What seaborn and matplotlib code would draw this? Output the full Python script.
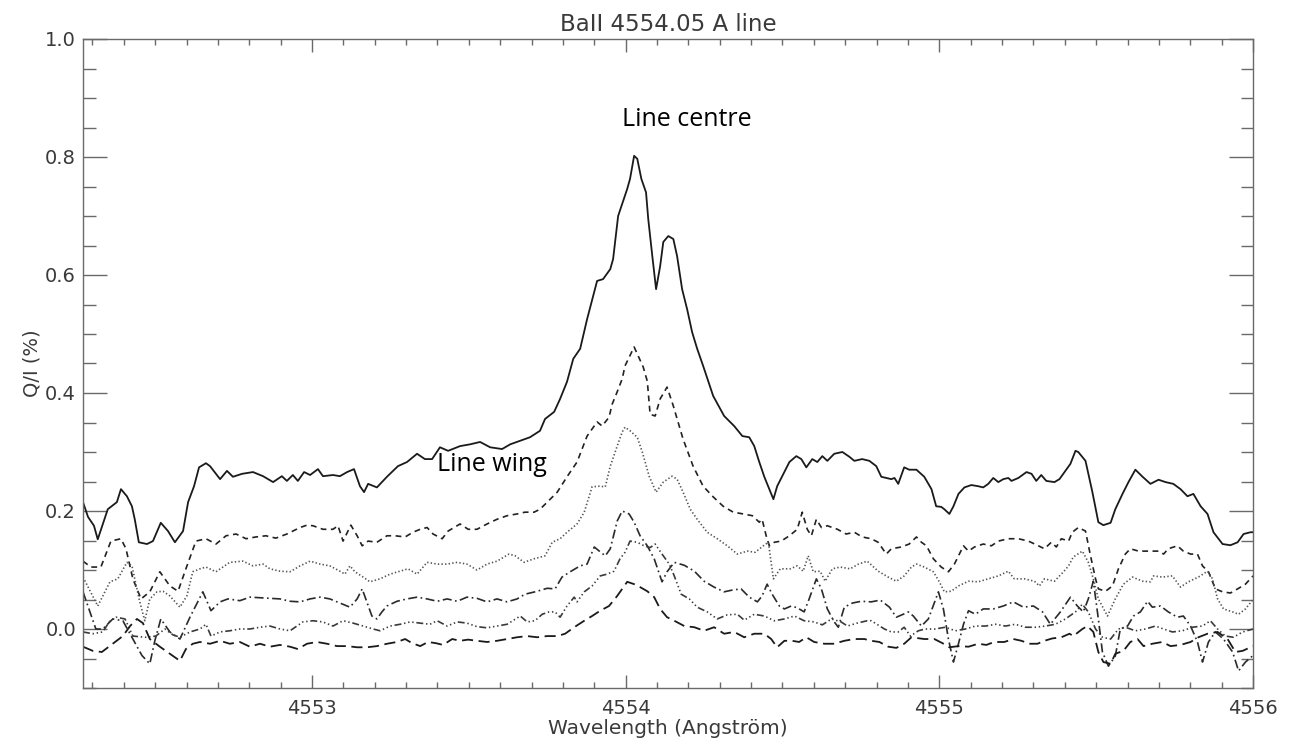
import matplotlib
matplotlib.use("Agg")
import matplotlib.pyplot as plt
from matplotlib.ticker import MultipleLocator, FixedLocator, FormatStrFormatter
import seaborn as sns
import pandas as pd

# ---------------- data ----------------
wl_centre = [4552.270, 4552.286, 4552.305, 4552.317, 4552.349, 4552.378, 4552.391, 4552.410, 4552.426, 4552.435,
             4552.448, 4552.474, 4552.493, 4552.518, 4552.541, 4552.563, 4552.589, 4552.605, 4552.624, 4552.640,
             4552.662, 4552.675, 4552.707, 4552.729, 4552.748, 4552.777, 4552.812, 4552.844, 4552.876, 4552.904,
             4552.920, 4552.939, 4552.955, 4552.975, 4552.994, 4553.019, 4553.035, 4553.067, 4553.089, 4553.112,
             4553.134, 4553.153, 4553.166, 4553.179, 4553.207, 4553.239, 4553.274, 4553.303, 4553.335, 4553.360,
             4553.383, 4553.408, 4553.434, 4553.472, 4553.504, 4553.536, 4553.568, 4553.606, 4553.632, 4553.664,
             4553.695, 4553.727, 4553.743, 4553.772, 4553.791, 4553.813, 4553.833, 4553.855, 4553.877, 4553.909,
             4553.928, 4553.951, 4553.960, 4553.976, 4554.005, 4554.014, 4554.027, 4554.037, 4554.050, 4554.065,
             4554.072, 4554.085, 4554.097, 4554.110, 4554.120, 4554.136, 4554.152, 4554.164, 4554.180, 4554.196,
             4554.212, 4554.228, 4554.247, 4554.279, 4554.314, 4554.346, 4554.372, 4554.394, 4554.410, 4554.426,
             4554.442, 4554.458, 4554.471, 4554.483, 4554.506, 4554.522, 4554.544, 4554.560, 4554.576, 4554.595,
             4554.611, 4554.627, 4554.643, 4554.665, 4554.691, 4554.713, 4554.729, 4554.754, 4554.777, 4554.799,
             4554.815, 4554.847, 4554.857, 4554.869, 4554.888, 4554.904, 4554.927, 4554.952, 4554.975, 4554.990,
             4555.006, 4555.016, 4555.032, 4555.045, 4555.061, 4555.080, 4555.102, 4555.124, 4555.140, 4555.156,
             4555.172, 4555.188, 4555.204, 4555.220, 4555.230, 4555.252, 4555.278, 4555.294, 4555.309, 4555.325,
             4555.341, 4555.367, 4555.383, 4555.399, 4555.418, 4555.434, 4555.443, 4555.466, 4555.488, 4555.507,
             4555.523, 4555.546, 4555.561, 4555.584, 4555.603, 4555.625, 4555.648, 4555.673, 4555.699, 4555.721,
             4555.746, 4555.769, 4555.791, 4555.810, 4555.833, 4555.855, 4555.874, 4555.903, 4555.928, 4555.951,
             4555.970, 4555.992, 4556.000]
q_centre = [0.215, 0.190, 0.175, 0.152, 0.203, 0.215, 0.237, 0.225, 0.208, 0.186,
            0.147, 0.144, 0.149, 0.180, 0.166, 0.147, 0.166, 0.215, 0.242, 0.274,
            0.281, 0.276, 0.254, 0.268, 0.258, 0.263, 0.266, 0.259, 0.249, 0.259,
            0.251, 0.261, 0.251, 0.266, 0.261, 0.271, 0.259, 0.261, 0.259, 0.266,
            0.271, 0.242, 0.232, 0.246, 0.240, 0.258, 0.276, 0.283, 0.297, 0.288,
            0.288, 0.308, 0.302, 0.310, 0.313, 0.317, 0.308, 0.305, 0.313, 0.319,
            0.325, 0.336, 0.356, 0.368, 0.390, 0.419, 0.458, 0.475, 0.525, 0.590,
            0.593, 0.610, 0.627, 0.700, 0.746, 0.763, 0.802, 0.797, 0.763, 0.740,
            0.695, 0.632, 0.576, 0.615, 0.656, 0.666, 0.661, 0.632, 0.576, 0.542,
            0.503, 0.475, 0.446, 0.395, 0.361, 0.344, 0.327, 0.325, 0.310, 0.283,
            0.258, 0.237, 0.220, 0.242, 0.266, 0.283, 0.293, 0.288, 0.274, 0.288,
            0.283, 0.293, 0.285, 0.297, 0.300, 0.292, 0.285, 0.288, 0.285, 0.276,
            0.258, 0.254, 0.256, 0.246, 0.274, 0.270, 0.270, 0.258, 0.237, 0.208,
            0.207, 0.203, 0.195, 0.208, 0.229, 0.240, 0.244, 0.242, 0.240, 0.246,
            0.256, 0.249, 0.254, 0.256, 0.251, 0.256, 0.266, 0.263, 0.251, 0.261,
            0.251, 0.249, 0.254, 0.266, 0.280, 0.302, 0.300, 0.285, 0.232, 0.181,
            0.176, 0.180, 0.203, 0.229, 0.249, 0.270, 0.258, 0.246, 0.253, 0.249,
            0.246, 0.237, 0.225, 0.229, 0.208, 0.195, 0.164, 0.144, 0.142, 0.147,
            0.161, 0.164, 0.164]

wl_pos2 = [4552.270, 4552.295, 4552.327, 4552.359, 4552.391, 4552.407, 4552.429, 4552.455, 4552.483, 4552.515,
           4552.547, 4552.573, 4552.598, 4552.630, 4552.662, 4552.694, 4552.726, 4552.758, 4552.790, 4552.821,
           4552.853, 4552.885, 4552.920, 4552.939, 4552.962, 4552.984, 4553.003, 4553.035, 4553.067, 4553.083,
           4553.099, 4553.124, 4553.144, 4553.160, 4553.179, 4553.207, 4553.239, 4553.265, 4553.297, 4553.322,
           4553.345, 4553.367, 4553.386, 4553.415, 4553.434, 4553.472, 4553.498, 4553.526, 4553.558, 4553.590,
           4553.622, 4553.654, 4553.679, 4553.708, 4553.727, 4553.750, 4553.782, 4553.813, 4553.845, 4553.877,
           4553.909, 4553.925, 4553.947, 4553.957, 4553.973, 4553.989, 4553.998, 4554.027, 4554.056, 4554.069,
           4554.078, 4554.094, 4554.110, 4554.132, 4554.152, 4554.183, 4554.215, 4554.247, 4554.279, 4554.311,
           4554.343, 4554.375, 4554.404, 4554.426, 4554.435, 4554.448, 4554.458, 4554.474, 4554.496, 4554.522,
           4554.547, 4554.563, 4554.579, 4554.592, 4554.608, 4554.624, 4554.643, 4554.675, 4554.703, 4554.729,
           4554.754, 4554.783, 4554.805, 4554.831, 4554.847, 4554.879, 4554.904, 4554.927, 4554.943, 4554.959,
           4554.981, 4555.006, 4555.029, 4555.048, 4555.077, 4555.093, 4555.112, 4555.140, 4555.166, 4555.188,
           4555.220, 4555.252, 4555.284, 4555.316, 4555.335, 4555.357, 4555.373, 4555.389, 4555.412, 4555.424,
           4555.443, 4555.466, 4555.482, 4555.498, 4555.507, 4555.530, 4555.552, 4555.571, 4555.593, 4555.609,
           4555.635, 4555.667, 4555.699, 4555.715, 4555.730, 4555.759, 4555.778, 4555.801, 4555.823, 4555.839,
           4555.858, 4555.880, 4555.903, 4555.928, 4555.951, 4555.976, 4556.000]
q_pos2 = [0.115, 0.105, 0.105, 0.149, 0.153, 0.136, 0.085, 0.051, 0.063, 0.097,
          0.073, 0.064, 0.102, 0.149, 0.153, 0.144, 0.158, 0.161, 0.153, 0.156,
          0.158, 0.154, 0.161, 0.166, 0.172, 0.176, 0.175, 0.169, 0.169, 0.175,
          0.149, 0.176, 0.158, 0.141, 0.149, 0.147, 0.158, 0.158, 0.156, 0.164,
          0.169, 0.172, 0.161, 0.153, 0.166, 0.178, 0.169, 0.169, 0.178, 0.186,
          0.192, 0.195, 0.198, 0.198, 0.203, 0.215, 0.232, 0.258, 0.283, 0.327,
          0.351, 0.344, 0.359, 0.381, 0.402, 0.424, 0.446, 0.478, 0.444, 0.420,
          0.364, 0.361, 0.390, 0.410, 0.378, 0.322, 0.276, 0.242, 0.224, 0.208,
          0.198, 0.195, 0.192, 0.181, 0.186, 0.158, 0.141, 0.147, 0.149, 0.158,
          0.169, 0.198, 0.169, 0.158, 0.186, 0.172, 0.175, 0.169, 0.161, 0.164,
          0.156, 0.153, 0.147, 0.127, 0.136, 0.139, 0.144, 0.156, 0.147, 0.141,
          0.119, 0.105, 0.097, 0.110, 0.141, 0.132, 0.139, 0.144, 0.141, 0.149,
          0.153, 0.153, 0.149, 0.141, 0.136, 0.147, 0.139, 0.153, 0.149, 0.164,
          0.172, 0.166, 0.124, 0.085, 0.068, 0.064, 0.073, 0.102, 0.127, 0.136,
          0.132, 0.132, 0.132, 0.127, 0.136, 0.141, 0.132, 0.127, 0.127, 0.107,
          0.097, 0.068, 0.063, 0.061, 0.068, 0.076, 0.090]

wl_pos3 = [4552.270, 4552.317, 4552.356, 4552.381, 4552.410, 4552.426, 4552.451, 4552.467, 4552.483, 4552.506,
           4552.525, 4552.547, 4552.579, 4552.601, 4552.620, 4552.643, 4552.662, 4552.694, 4552.738, 4552.780,
           4552.812, 4552.844, 4552.866, 4552.898, 4552.930, 4552.962, 4552.994, 4553.026, 4553.057, 4553.089,
           4553.105, 4553.121, 4553.137, 4553.163, 4553.185, 4553.217, 4553.249, 4553.281, 4553.306, 4553.335,
           4553.367, 4553.399, 4553.431, 4553.463, 4553.494, 4553.526, 4553.558, 4553.590, 4553.628, 4553.648,
           4553.676, 4553.708, 4553.743, 4553.766, 4553.791, 4553.813, 4553.845, 4553.868, 4553.893, 4553.916,
           4553.935, 4553.951, 4553.973, 4553.989, 4553.998, 4554.014, 4554.037, 4554.053, 4554.075, 4554.097,
           4554.120, 4554.148, 4554.164, 4554.183, 4554.206, 4554.228, 4554.260, 4554.292, 4554.324, 4554.356,
           4554.388, 4554.413, 4554.439, 4554.455, 4554.471, 4554.493, 4554.525, 4554.547, 4554.566, 4554.582,
           4554.598, 4554.620, 4554.636, 4554.659, 4554.684, 4554.716, 4554.742, 4554.770, 4554.805, 4554.837,
           4554.863, 4554.888, 4554.911, 4554.927, 4554.952, 4554.981, 4555.000, 4555.016, 4555.038, 4555.061,
           4555.093, 4555.124, 4555.156, 4555.188, 4555.220, 4555.239, 4555.271, 4555.303, 4555.319, 4555.335,
           4555.367, 4555.396, 4555.412, 4555.427, 4555.456, 4555.475, 4555.491, 4555.507, 4555.536, 4555.561,
           4555.587, 4555.616, 4555.648, 4555.673, 4555.683, 4555.711, 4555.743, 4555.769, 4555.794, 4555.826,
           4555.855, 4555.871, 4555.887, 4555.906, 4555.935, 4555.954, 4555.976, 4556.000]
q_pos3 = [0.088, 0.039, 0.080, 0.085, 0.113, 0.107, 0.046, 0.014, 0.051, 0.063,
          0.064, 0.056, 0.037, 0.056, 0.097, 0.102, 0.105, 0.097, 0.113, 0.115,
          0.107, 0.110, 0.102, 0.098, 0.097, 0.107, 0.115, 0.110, 0.107, 0.098,
          0.093, 0.107, 0.097, 0.088, 0.080, 0.085, 0.093, 0.098, 0.102, 0.093,
          0.113, 0.110, 0.110, 0.113, 0.110, 0.100, 0.110, 0.115, 0.127, 0.124,
          0.113, 0.119, 0.124, 0.147, 0.153, 0.164, 0.178, 0.198, 0.241, 0.242,
          0.241, 0.276, 0.310, 0.334, 0.342, 0.336, 0.325, 0.300, 0.259, 0.232,
          0.249, 0.259, 0.254, 0.232, 0.203, 0.186, 0.164, 0.153, 0.141, 0.127,
          0.132, 0.130, 0.141, 0.147, 0.085, 0.102, 0.102, 0.107, 0.098, 0.124,
          0.097, 0.098, 0.081, 0.102, 0.105, 0.102, 0.110, 0.115, 0.098, 0.088,
          0.081, 0.090, 0.105, 0.110, 0.105, 0.097, 0.080, 0.063, 0.064, 0.073,
          0.081, 0.080, 0.085, 0.090, 0.098, 0.085, 0.085, 0.081, 0.073, 0.085,
          0.081, 0.097, 0.107, 0.122, 0.132, 0.113, 0.085, 0.051, 0.022, 0.051,
          0.076, 0.088, 0.081, 0.080, 0.090, 0.088, 0.090, 0.071, 0.080, 0.088,
          0.098, 0.085, 0.051, 0.034, 0.029, 0.025, 0.034, 0.050]

wl_pos4 = [4552.270, 4552.292, 4552.311, 4552.333, 4552.365, 4552.397, 4552.429, 4552.458, 4552.483, 4552.499,
           4552.518, 4552.547, 4552.579, 4552.611, 4552.652, 4552.678, 4552.707, 4552.732, 4552.770, 4552.802,
           4552.834, 4552.866, 4552.898, 4552.930, 4552.962, 4552.994, 4553.026, 4553.057, 4553.089, 4553.121,
           4553.144, 4553.160, 4553.175, 4553.191, 4553.207, 4553.223, 4553.239, 4553.271, 4553.303, 4553.335,
           4553.367, 4553.399, 4553.431, 4553.463, 4553.494, 4553.526, 4553.558, 4553.590, 4553.622, 4553.654,
           4553.679, 4553.711, 4553.750, 4553.775, 4553.797, 4553.823, 4553.855, 4553.877, 4553.900, 4553.916,
           4553.935, 4553.951, 4553.973, 4553.989, 4554.011, 4554.027, 4554.046, 4554.069, 4554.091, 4554.116,
           4554.132, 4554.155, 4554.187, 4554.219, 4554.250, 4554.282, 4554.314, 4554.340, 4554.368, 4554.394,
           4554.420, 4554.435, 4554.451, 4554.467, 4554.490, 4554.506, 4554.528, 4554.547, 4554.569, 4554.585,
           4554.608, 4554.624, 4554.643, 4554.665, 4554.678, 4554.697, 4554.723, 4554.751, 4554.783, 4554.812,
           4554.841, 4554.863, 4554.885, 4554.901, 4554.917, 4554.943, 4554.965, 4554.997, 4555.013, 4555.029,
           4555.045, 4555.061, 4555.077, 4555.093, 4555.115, 4555.140, 4555.172, 4555.204, 4555.236, 4555.268,
           4555.300, 4555.329, 4555.354, 4555.386, 4555.418, 4555.440, 4555.459, 4555.475, 4555.491, 4555.507,
           4555.520, 4555.539, 4555.561, 4555.577, 4555.600, 4555.619, 4555.641, 4555.664, 4555.679, 4555.705,
           4555.730, 4555.759, 4555.778, 4555.801, 4555.823, 4555.839, 4555.858, 4555.880, 4555.906, 4555.935,
           4555.954, 4555.976, 4556.000]
q_pos4 = [0.063, 0.029, 0.000, 0.000, 0.017, 0.014, -0.017, -0.045, -0.059, -0.020,
          0.017, -0.005, -0.017, 0.020, 0.063, 0.031, 0.046, 0.051, 0.048, 0.054,
          0.053, 0.052, 0.051, 0.047, 0.046, 0.051, 0.054, 0.051, 0.044, 0.037,
          0.051, 0.068, 0.046, 0.022, 0.017, 0.029, 0.039, 0.047, 0.051, 0.054,
          0.051, 0.047, 0.051, 0.047, 0.054, 0.052, 0.046, 0.051, 0.046, 0.051,
          0.059, 0.063, 0.069, 0.068, 0.088, 0.097, 0.107, 0.110, 0.139, 0.132,
          0.124, 0.136, 0.183, 0.200, 0.195, 0.181, 0.158, 0.141, 0.119, 0.080,
          0.097, 0.113, 0.108, 0.098, 0.081, 0.071, 0.063, 0.066, 0.068, 0.054,
          0.046, 0.056, 0.076, 0.059, 0.039, 0.034, 0.039, 0.036, 0.029, 0.051,
          0.085, 0.068, 0.034, 0.012, 0.003, 0.037, 0.044, 0.047, 0.046, 0.049,
          0.037, 0.020, 0.025, 0.029, 0.022, 0.005, 0.017, 0.063, 0.034, -0.017,
          -0.056, -0.025, 0.008, 0.031, 0.025, 0.034, 0.034, 0.039, 0.046, 0.037,
          0.039, 0.029, 0.008, 0.029, 0.054, 0.039, 0.029, 0.051, 0.081, 0.017,
          -0.039, -0.063, -0.046, 0.000, 0.005, 0.022, 0.029, 0.047, 0.037, 0.039,
          0.029, 0.020, 0.022, 0.005, -0.022, -0.056, -0.022, -0.005, -0.017, -0.039,
          -0.071, -0.056, -0.045]

wl_pos5 = [4552.270, 4552.301, 4552.333, 4552.356, 4552.375, 4552.404, 4552.429, 4552.471, 4552.502, 4552.531,
           4552.557, 4552.579, 4552.611, 4552.643, 4552.662, 4552.678, 4552.707, 4552.738, 4552.770, 4552.802,
           4552.834, 4552.866, 4552.898, 4552.930, 4552.952, 4552.971, 4553.003, 4553.035, 4553.067, 4553.099,
           4553.131, 4553.163, 4553.195, 4553.217, 4553.249, 4553.281, 4553.313, 4553.345, 4553.376, 4553.399,
           4553.431, 4553.463, 4553.494, 4553.526, 4553.558, 4553.590, 4553.622, 4553.664, 4553.686, 4553.711,
           4553.734, 4553.756, 4553.775, 4553.791, 4553.813, 4553.836, 4553.845, 4553.868, 4553.893, 4553.919,
           4553.941, 4553.963, 4553.982, 4553.998, 4554.014, 4554.037, 4554.059, 4554.078, 4554.094, 4554.116,
           4554.139, 4554.155, 4554.177, 4554.203, 4554.228, 4554.260, 4554.292, 4554.324, 4554.356, 4554.378,
           4554.410, 4554.442, 4554.474, 4554.506, 4554.538, 4554.569, 4554.601, 4554.627, 4554.656, 4554.687,
           4554.707, 4554.738, 4554.770, 4554.783, 4554.825, 4554.847, 4554.869, 4554.888, 4554.908, 4554.933,
           4554.955, 4554.987, 4555.019, 4555.051, 4555.083, 4555.115, 4555.147, 4555.179, 4555.211, 4555.242,
           4555.274, 4555.306, 4555.338, 4555.370, 4555.402, 4555.434, 4555.456, 4555.475, 4555.498, 4555.520,
           4555.546, 4555.571, 4555.593, 4555.625, 4555.657, 4555.689, 4555.715, 4555.743, 4555.775, 4555.807,
           4555.839, 4555.864, 4555.887, 4555.912, 4555.938, 4555.967, 4556.000]
q_pos5 = [-0.005, -0.008, -0.005, 0.014, 0.020, 0.017, -0.012, -0.014, -0.012, 0.000,
          -0.010, -0.014, -0.005, 0.000, 0.008, -0.012, -0.005, -0.003, 0.000, 0.000,
          0.003, 0.005, 0.000, -0.003, 0.005, 0.012, 0.014, 0.012, 0.005, 0.014,
          0.010, 0.005, 0.000, -0.003, 0.005, 0.008, 0.012, 0.010, 0.008, 0.014,
          0.005, 0.012, 0.010, 0.004, 0.002, 0.005, 0.008, 0.022, 0.012, 0.014,
          0.025, 0.029, 0.029, 0.020, 0.039, 0.054, 0.046, 0.063, 0.073, 0.090,
          0.093, 0.098, 0.119, 0.130, 0.149, 0.147, 0.141, 0.138, 0.144, 0.127,
          0.110, 0.090, 0.059, 0.051, 0.037, 0.029, 0.017, 0.024, 0.025, 0.015,
          0.025, 0.022, 0.014, 0.017, 0.022, 0.014, 0.012, 0.007, 0.017, 0.012,
          0.005, 0.010, 0.014, 0.014, 0.000, -0.005, -0.005, 0.003, -0.012, -0.003,
          0.000, 0.000, 0.003, -0.003, 0.000, 0.005, 0.005, 0.008, 0.005, 0.008,
          0.003, 0.003, 0.005, 0.008, 0.017, 0.029, 0.042, 0.029, 0.000, -0.014,
          -0.017, 0.000, 0.003, -0.003, 0.000, 0.005, 0.000, -0.005, -0.003, 0.003,
          0.005, 0.014, 0.000, -0.012, -0.014, -0.005, 0.000]

wl_pos6 = [4552.270, 4552.301, 4552.330, 4552.365, 4552.397, 4552.420, 4552.442, 4552.461, 4552.483, 4552.515,
           4552.547, 4552.579, 4552.598, 4552.620, 4552.643, 4552.675, 4552.707, 4552.738, 4552.770, 4552.802,
           4552.834, 4552.866, 4552.898, 4552.930, 4552.955, 4552.984, 4553.016, 4553.048, 4553.080, 4553.112,
           4553.144, 4553.175, 4553.207, 4553.239, 4553.271, 4553.297, 4553.319, 4553.345, 4553.370, 4553.395,
           4553.418, 4553.447, 4553.472, 4553.498, 4553.526, 4553.558, 4553.590, 4553.622, 4553.654, 4553.686,
           4553.718, 4553.750, 4553.782, 4553.807, 4553.836, 4553.868, 4553.893, 4553.919, 4553.947, 4553.973,
           4554.005, 4554.027, 4554.046, 4554.069, 4554.091, 4554.110, 4554.132, 4554.155, 4554.187, 4554.219,
           4554.250, 4554.282, 4554.314, 4554.346, 4554.378, 4554.410, 4554.442, 4554.464, 4554.483, 4554.506,
           4554.531, 4554.553, 4554.576, 4554.601, 4554.633, 4554.665, 4554.697, 4554.729, 4554.761, 4554.783,
           4554.809, 4554.837, 4554.863, 4554.888, 4554.911, 4554.952, 4554.984, 4555.010, 4555.032, 4555.061,
           4555.093, 4555.124, 4555.150, 4555.175, 4555.207, 4555.236, 4555.262, 4555.287, 4555.313, 4555.335,
           4555.360, 4555.389, 4555.415, 4555.427, 4555.456, 4555.472, 4555.491, 4555.507, 4555.523, 4555.546,
           4555.561, 4555.587, 4555.609, 4555.632, 4555.651, 4555.679, 4555.711, 4555.737, 4555.769, 4555.801,
           4555.826, 4555.855, 4555.887, 4555.919, 4555.944, 4555.967, 4556.000]
q_pos6 = [-0.030, -0.037, -0.039, -0.025, -0.012, 0.005, 0.017, 0.010, -0.017, -0.030,
          -0.042, -0.054, -0.034, -0.025, -0.022, -0.025, -0.020, -0.025, -0.022, -0.030,
          -0.025, -0.030, -0.027, -0.030, -0.034, -0.025, -0.022, -0.025, -0.029, -0.029,
          -0.031, -0.031, -0.029, -0.025, -0.022, -0.017, -0.024, -0.029, -0.022, -0.024,
          -0.027, -0.017, -0.020, -0.018, -0.020, -0.022, -0.020, -0.017, -0.014, -0.012,
          -0.014, -0.012, -0.012, -0.008, 0.003, 0.014, 0.022, 0.031, 0.039, 0.056,
          0.080, 0.076, 0.071, 0.064, 0.054, 0.034, 0.020, 0.014, 0.005, 0.003,
          -0.003, 0.003, -0.008, -0.005, -0.014, -0.008, -0.008, -0.017, -0.031, -0.020,
          -0.020, -0.022, -0.014, -0.022, -0.025, -0.025, -0.020, -0.017, -0.017, -0.020,
          -0.022, -0.030, -0.032, -0.025, -0.014, -0.017, -0.017, -0.024, -0.031, -0.029,
          -0.030, -0.025, -0.027, -0.022, -0.022, -0.017, -0.020, -0.025, -0.025, -0.020,
          -0.016, -0.014, -0.008, -0.012, 0.000, 0.005, -0.005, -0.039, -0.056, -0.059,
          -0.042, -0.037, -0.022, -0.017, -0.029, -0.025, -0.022, -0.029, -0.027, -0.022,
          -0.014, -0.008, -0.005, -0.017, -0.039, -0.037, -0.029]

x_ticks = [4553, 4554, 4555, 4556]
y_ticks = [0.0, 0.2, 0.4, 0.6, 0.8, 1.0]
title_text = "BaII 4554.05 A line"
x_label = "Wavelength (Angstr\u00f6m)"
y_label = "Q/I (%)"

# ---------------- styling ----------------
sns.set_theme(style="white")
plt.rcParams["font.family"] = ["DejaVu Sans"]
plt.rcParams["lines.scale_dashes"] = False

TXT = "#3a3a3a"
AX = "#6a6a6a"

fig = plt.figure(figsize=(12.93, 7.45), dpi=100)
ax = fig.add_axes([83 / 1293, 1 - 688 / 745, (1253 - 83) / 1293, (688 - 39) / 745])

series = [
    (wl_centre, q_centre, "-", "#1a1a1a", 1.3),
    (wl_pos2, q_pos2, (0, (4.2, 3.2)), "#222222", 1.2),
    (wl_pos3, q_pos3, (0, (1.0, 1.6)), "#555555", 1.2),
    (wl_pos4, q_pos4, (0, (6.5, 2.5, 1.2, 2.5)), "#2a2a2a", 1.2),
    (wl_pos5, q_pos5, (0, (5.0, 2.0, 1.0, 2.0, 1.0, 2.0, 1.0, 2.0)), "#3a3a3a", 1.2),
    (wl_pos6, q_pos6, (0, (8.0, 4.0)), "#1a1a1a", 1.3),
]
for xs, ys, ls, col, lw in series:
    df = pd.DataFrame({"wl": xs, "q": ys})
    sns.lineplot(data=df, x="wl", y="q", ax=ax, color=col, linewidth=lw,
                 linestyle=ls, estimator=None, errorbar=None, sort=False)

ax.set_xlim(4552.27, 4556.0)
ax.set_ylim(-0.1, 1.0)

ax.xaxis.set_major_locator(FixedLocator(x_ticks))
ax.xaxis.set_minor_locator(MultipleLocator(0.1))
ax.yaxis.set_major_locator(FixedLocator(y_ticks))
ax.yaxis.set_minor_locator(MultipleLocator(0.05))
ax.yaxis.set_major_formatter(FormatStrFormatter("%.1f"))
ax.xaxis.set_major_formatter(FormatStrFormatter("%d"))

ax.tick_params(axis="x", which="major", direction="in", length=9.5, width=1.0, color=AX,
               top=True, bottom=True, labelsize=14, labelcolor=TXT, pad=8)
ax.tick_params(axis="x", which="minor", direction="in", length=4.5, width=1.0, color=AX,
               top=True, bottom=True)
ax.tick_params(axis="y", which="major", direction="in", length=17.5, width=1.0, color=AX,
               left=True, right=True, labelsize=14, labelcolor=TXT, pad=5)
ax.tick_params(axis="y", which="minor", direction="in", length=9.0, width=1.0, color=AX,
               left=True, right=True)
for sp in ax.spines.values():
    sp.set_visible(True)
    sp.set_color(AX)
    sp.set_linewidth(1.0)

ax.set_xlabel(x_label, fontsize=14.5, color=TXT, labelpad=1)
ax.set_ylabel(y_label, fontsize=14, color=TXT, labelpad=3)
ax.set_title(title_text, fontsize=16.5, color=TXT, pad=6)

ax.text(4553.989, 0.853, "Line centre", fontsize=18, family=["Open Sans", "DejaVu Sans"],
        color="black", ha="left", va="baseline")
ax.text(4553.398, 0.268, "Line wing", fontsize=18, family=["Open Sans", "DejaVu Sans"],
        color="black", ha="left", va="baseline")

fig.savefig("out.png", dpi=100, facecolor="white")
